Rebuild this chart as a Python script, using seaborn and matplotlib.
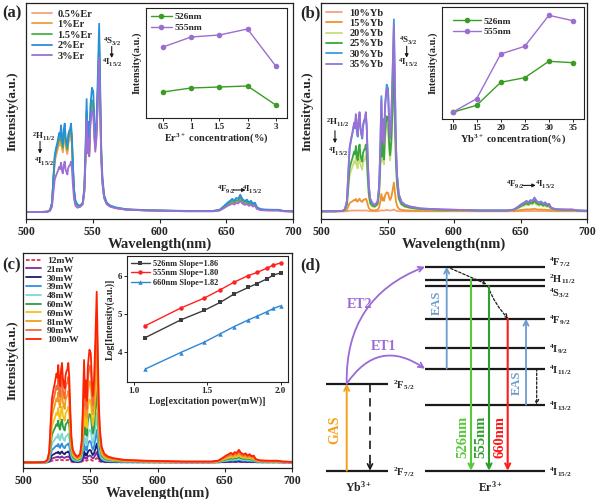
import numpy as np
import pandas as pd
import matplotlib
matplotlib.use('Agg')
import matplotlib.pyplot as plt
import seaborn as sns

wavelength = [500, 510, 516, 518, 519.5, 520.5, 521.5, 522.5, 523.5, 524.9, 525.6,
              526.2, 527.0, 527.6, 528.3, 529.0, 529.6, 530.3, 531.0, 531.6, 532.3,
              533.0, 533.7, 534.4, 535.2, 536.0, 537.0, 538.5, 540.4, 542.5, 543.7,
              544.6, 545.4, 546.1, 546.7, 547.4, 548.2, 549.4, 550.4, 551.2, 551.9,
              552.8, 553.8, 554.8, 555.6, 556.3, 557.2, 558.5, 560.5, 563, 567, 575,
              590, 620, 640, 645, 648, 651, 653, 654.5, 656, 657.5, 659, 660.5, 662,
              664, 665.5, 667, 668.5, 670, 671.5, 673, 676, 680, 685, 689, 693, 700]
base_intensity = [0.0, 0.0, 0.002, 0.01, 0.05, 0.18, 0.30, 0.34, 0.37, 0.42, 0.40,
                  0.46, 0.38, 0.36, 0.44, 0.47, 0.40, 0.37, 0.35, 0.41, 0.43,
                  0.44, 0.47, 0.40, 0.24, 0.12, 0.06, 0.04, 0.033, 0.05, 0.13,
                  0.34, 0.60, 0.38, 0.48, 0.36, 0.56, 0.66, 0.64, 0.48, 0.39,
                  0.48, 0.72, 1.0, 0.66, 0.36, 0.19, 0.09, 0.05, 0.035, 0.025, 0.015,
                  0.01, 0.006, 0.006, 0.012, 0.03, 0.05, 0.06, 0.07, 0.06, 0.075, 0.07,
                  0.092, 0.07, 0.058, 0.066, 0.05, 0.06, 0.045, 0.05, 0.025, 0.015,
                  0.013, 0.012, 0.012, 0.006, 0.004]

# (a) Er series: relative strength of 2H11/2, 4S3/2 and 4F9/2 bands
er_labels = ['0.5%Er', '1%Er', '1.5%Er', '2%Er', '3%Er']
er_colors = ['#f5a27a', '#f39a3a', '#4db04a', '#2a8fd9', '#9b6fd6']
er_band_h = [0.88, 0.92, 0.95, 1.0, 0.57]
er_band_s = [0.85, 0.88, 0.90, 1.0, 0.82]
er_band_f = [0.75, 0.80, 0.85, 1.0, 0.65]

# (b) Yb series
yb_labels = ['10%Yb', '15%Yb', '20%Yb', '25%Yb', '30%Yb', '35%Yb']
yb_colors = ['#f5a27a', '#f0922b', '#c9dc7a', '#36a83a', '#3c9be0', '#9b6fd6']
yb_band_h = [0.01, 0.14, 0.62, 0.74, 1.08, 1.10]
yb_band_s = [0.01, 0.15, 0.68, 0.75, 1.0, 0.97]
yb_band_f = [0.02, 0.15, 0.50, 0.60, 0.78, 0.75]

# (c) pump power series
power_labels = ['12mW', '21mW', '30mW', '39mW', '48mW', '60mW', '69mW', '81mW', '90mW', '100mW']
power_colors = ['#e0305a', '#7b2fa0', '#1c1c70', '#2f8fe0', '#7fd6d6', '#2e9e3e',
                '#f2c21b', '#f59a1e', '#f26b3a', '#ff2200']
power_rel = [0.025, 0.06, 0.11, 0.19, 0.29, 0.43, 0.56, 0.72, 0.86, 1.0]
power_band = [1.24, 1.0, 0.8]

# insets
er_conc = ['0.5', '1', '1.5', '2', '3']
er_526 = [26, 30, 31, 32, 13]
er_555 = [71, 81, 83, 89, 52]
yb_conc = [10, 15, 20, 25, 30, 35]
yb_526 = [6.7, 13.7, 36.7, 41.3, 57.7, 56.3]
yb_555 = [6.7, 20.3, 65, 72.7, 103.7, 98.3]
log_power = [1.08, 1.32, 1.48, 1.59, 1.68, 1.78, 1.84, 1.91, 1.95, 2.00]
log_526 = [4.38, 4.84, 5.09, 5.30, 5.51, 5.69, 5.79, 5.92, 6.01, 6.07]
log_555 = [4.69, 5.15, 5.41, 5.63, 5.82, 6.00, 6.08, 6.20, 6.27, 6.33]
log_660 = [3.56, 3.99, 4.26, 4.48, 4.66, 4.84, 4.94, 5.06, 5.14, 5.21]

# (d) energy levels (10^3 cm^-1)
er_levels = ['$^4$F$_{7/2}$', '$^2$H$_{11/2}$', '$^4$S$_{3/2}$', '$^4$F$_{9/2}$',
             '$^4$I$_{9/2}$', '$^4$I$_{11/2}$', '$^4$I$_{13/2}$', '$^4$I$_{15/2}$']
er_energy = [20.4, 19.1, 18.45, 15.2, 12.3, 10.2, 6.6, 0.0]
yb_levels = ['$^2$F$_{5/2}$', '$^2$F$_{7/2}$']
yb_energy = [8.7, 0.0]

sns.set_theme(style='white')
plt.rcParams['font.family'] = ['Liberation Serif', 'DejaVu Serif']
plt.rcParams['font.weight'] = 'bold'
plt.rcParams['axes.labelweight'] = 'bold'
plt.rcParams['mathtext.fontset'] = 'custom'
plt.rcParams['mathtext.rm'] = 'Liberation Serif:bold'
plt.rcParams['mathtext.bf'] = 'Liberation Serif:bold'
plt.rcParams['mathtext.it'] = 'Liberation Serif:bold:italic'

fig = plt.figure(figsize=(6.0, 4.99), dpi=100)


def px_axes(l, t, r, b):
    return fig.add_axes([l / 600, 1 - b / 499, (r - l) / 600, (b - t) / 499])


def frame(ax, lw=0.9):
    for sp in ax.spines.values():
        sp.set_visible(True)
        sp.set_linewidth(lw)
        sp.set_color('#222222')


def spectrum_frame(labels, f_h, f_s, f_f):
    wl = np.array(wavelength)
    base = np.array(base_intensity)
    parts = []
    for lab, h, s, f in zip(labels, f_h, f_s, f_f):
        scale = np.where(wl < 540, h, np.where(wl < 620, s, f))
        parts.append(pd.DataFrame({'Wavelength': wl, 'Intensity': base * scale, 'Sample': lab}))
    return pd.concat(parts, ignore_index=True)


def draw_spectrum(ax, df, labels, colors, ylim, ylab_pad):
    sns.lineplot(data=df, x='Wavelength', y='Intensity', hue='Sample', hue_order=labels,
                 palette=colors, estimator=None, sort=False, lw=1.3, legend=False, ax=ax)
    ax.set_xlim(500, 700)
    ax.set_ylim(*ylim)
    ax.set_xticks([500, 550, 600, 650, 700])
    ax.set_yticks([])
    ax.set_xlabel('Wavelength(nm)', fontsize=10.5, labelpad=0)
    ax.set_ylabel('Intensity(a.u.)', fontsize=9.5, labelpad=ylab_pad)
    ax.tick_params(axis='x', bottom=True, direction='out', length=3, width=0.8,
                   labelsize=8.5, pad=2)
    frame(ax)


def vert_transition(ax, x_txt, x_arr, y_up, y_a0, y_a1, y_low, upper, size=6.5):
    ax.text(x_txt, y_up, upper, ha='center', va='center', fontsize=size)
    ax.annotate('', xy=(x_arr, y_a1), xytext=(x_arr, y_a0),
                arrowprops=dict(arrowstyle='-|>', color='k', lw=0.8, mutation_scale=5,
                                shrinkA=0, shrinkB=0))
    ax.text(x_txt, y_low, '$^4$I$_{15/2}$', ha='center', va='center', fontsize=size)


def red_transition(ax, x0, x1, x2, x3, y, size=6.5):
    ax.text(x0, y, '$^4$F$_{9/2}$', ha='center', va='center', fontsize=size)
    ax.annotate('', xy=(x2, y), xytext=(x1, y),
                arrowprops=dict(arrowstyle='-|>', color='k', lw=0.8, mutation_scale=5,
                                shrinkA=0, shrinkB=0))
    ax.text(x3, y, '$^4$I$_{15/2}$', ha='center', va='center', fontsize=size)


def inset_style(ax):
    frame(ax, 0.8)
    ax.set_yticks([])
    ax.tick_params(axis='x', bottom=True, direction='out', length=2, width=0.7,
                   labelsize=6.5, pad=1.5)


# ---------- (a) ----------
ax_a = px_axes(26, 3, 293, 219)
draw_spectrum(ax_a, spectrum_frame(er_labels, er_band_h, er_band_s, er_band_f),
              er_labels, er_colors, (-0.037, 1.11), 5)
ax_a.legend(ax_a.lines[:len(er_labels)], er_labels, loc='upper left', frameon=False,
            fontsize=7.5, handlelength=1.9, handletextpad=0.5, labelspacing=0.12,
            borderaxespad=0.3, borderpad=0.3)
vert_transition(ax_a, 513.5, 510.5, 0.40, 0.375, 0.31, 0.268, '$^2$H$_{11/2}$')
vert_transition(ax_a, 564.2, 564.2, 0.906, 0.879, 0.818, 0.79, '$^4$S$_{3/2}$')
red_transition(ax_a, 649.8, 655, 664.5, 669.5, 0.117)

ins_a = px_axes(146, 8, 287, 118)
ins_df = pd.DataFrame({'conc': er_conc * 2, 'I': er_526 + er_555,
                       'band': ['526nm'] * 5 + ['555nm'] * 5})
sns.lineplot(data=ins_df, x='conc', y='I', hue='band', palette=['#3a9d23', '#9b6fd0'],
             marker='o', markersize=4, markeredgewidth=0, lw=1.0, sort=False,
             legend=False, ax=ins_a)
inset_style(ins_a)
ins_a.set_xlim(-0.6, 4.4)
ins_a.set_ylim(0, 110)
ins_a.set_xlabel('Er$^{3+}$ concentration(%)', fontsize=7.5, labelpad=0)
ins_a.set_ylabel('Intensity(a.u.)', fontsize=7.5, labelpad=3)
ins_a.legend(ins_a.lines[:2], ['526nm', '555nm'], loc='upper left', frameon=False,
             fontsize=6.8, handlelength=2.2, handletextpad=0.3, labelspacing=0.2,
             borderaxespad=0.2, borderpad=0.3)

# ---------- (b) ----------
ax_b = px_axes(321, 3, 587, 219)
draw_spectrum(ax_b, spectrum_frame(yb_labels, yb_band_h, yb_band_s, yb_band_f),
              yb_labels, yb_colors, (-0.04, 1.085), 5)
ax_b.legend(ax_b.lines[:len(yb_labels)], yb_labels, loc='upper left', frameon=False,
            fontsize=7.5, handlelength=1.5, handletextpad=0.7, labelspacing=0.1,
            borderaxespad=0.3, borderpad=0.2)
vert_transition(ax_b, 512.5, 510.5, 0.458, 0.42, 0.355, 0.31, '$^2$H$_{11/2}$')
vert_transition(ax_b, 565.4, 564.4, 0.885, 0.86, 0.80, 0.775, '$^4$S$_{3/2}$')
red_transition(ax_b, 646.2, 651.5, 661.5, 668.4, 0.135)

ins_b = px_axes(442, 7, 584, 119)
ins_df = pd.DataFrame({'conc': yb_conc * 2, 'I': yb_526 + yb_555,
                       'band': ['526nm'] * 6 + ['555nm'] * 6})
sns.lineplot(data=ins_df, x='conc', y='I', hue='band', palette=['#3a9d23', '#9b6fd0'],
             marker='o', markersize=4, markeredgewidth=0, lw=1.0, sort=False,
             legend=False, ax=ins_b)
inset_style(ins_b)
ins_b.set_xlim(7.8, 37.3)
ins_b.set_ylim(0, 112)
ins_b.set_xticks(yb_conc)
ins_b.set_xlabel('Yb$^{3+}$ concentration(%)', fontsize=7.5, labelpad=0)
ins_b.set_ylabel('Intensity(a.u.)', fontsize=7.5, labelpad=3)
ins_b.legend(ins_b.lines[:2], ['526nm', '555nm'], loc='upper left', frameon=False,
             fontsize=6.8, handlelength=3.0, handletextpad=0.3, labelspacing=0.2,
             bbox_to_anchor=(0.03, 0.97), borderpad=0.2)

# ---------- (c) ----------
ax_c = px_axes(23, 253, 292, 468)
draw_spectrum(ax_c, spectrum_frame(power_labels,
                                   [power_band[0] * p for p in power_rel],
                                   [power_band[1] * p for p in power_rel],
                                   [power_band[2] * p for p in power_rel]),
              power_labels, power_colors, (-0.033, 1.227), 3)
ax_c.lines[0].set_linestyle((0, (2, 1)))
ax_c.legend(ax_c.lines[:len(power_labels)], power_labels, loc='upper left',
            frameon=False, fontsize=6.8, handlelength=1.6, handletextpad=0.6,
            labelspacing=0.02, borderaxespad=0.15, borderpad=0.2)

ins_c = px_axes(127, 256, 288, 382)
log_df = pd.DataFrame({'P': log_power * 3, 'I': log_526 + log_555 + log_660,
                       'band': ['526nm Slope=1.86'] * 10 + ['555nm Slope=1.80'] * 10
                       + ['660nm Slope=1.82'] * 10})
for band, col, mk in zip(['526nm Slope=1.86', '555nm Slope=1.80', '660nm Slope=1.82'],
                         ['#3d3d3d', '#ff2020', '#2f86d6'], ['s', 'o', '^']):
    sns.lineplot(data=log_df[log_df['band'] == band], x='P', y='I', color=col,
                 marker=mk, markersize=3.2, markeredgewidth=0, lw=1.0, ax=ins_c,
                 label=band)
frame(ins_c, 0.8)
ins_c.set_xlim(0.955, 2.05)
ins_c.set_ylim(3.22, 6.51)
ins_c.set_xticks([1.0, 1.5, 2.0])
ins_c.set_yticks([4, 5, 6])
ins_c.tick_params(bottom=True, left=True, direction='out', length=2, width=0.7,
                  labelsize=6.5, pad=1.5)
ins_c.set_xlabel('Log[excitation power(mW)]', fontsize=7, labelpad=1)
ins_c.set_ylabel('Log[Intensity(a.u.)]', fontsize=7, labelpad=2)
ins_c.legend(loc='upper left', frameon=False, fontsize=6, handlelength=2.2,
             handletextpad=0.4, labelspacing=0.15, borderaxespad=0.2, borderpad=0.3)

# ---------- (d) ----------
ax_d = px_axes(300, 250, 600, 499)
ax_d.set_xlim(0, 300)
ax_d.set_ylim(-2.83, 22.07)
ax_d.axis('off')

ax_d.hlines(er_energy, 125, 245, color='k', lw=1.6)
ax_d.hlines(yb_energy, 26, 88, color='k', lw=1.6)
label_shift = [0.45, 0.1, -0.7, -0.15, -0.15, -0.15, -0.1, -0.1]
for name, e, dy in zip(er_levels, er_energy, label_shift):
    ax_d.text(249, e + dy, name, ha='left', va='center', fontsize=7.5)
for name, e in zip(yb_levels, yb_energy):
    ax_d.text(93, e - 0.1, name, ha='left', va='center', fontsize=7.5)
ax_d.text(58, -1.7, 'Yb$^{3+}$', ha='center', va='center', fontsize=8.5)
ax_d.text(190, -1.7, 'Er$^{3+}$', ha='center', va='center', fontsize=8.5)


def arrow(p0, p1, color, lw=1.4, style='->', ls='-', rad=0.0, ms=9):
    ax_d.annotate('', xy=p1, xytext=p0,
                  arrowprops=dict(arrowstyle=style, color=color, lw=lw, linestyle=ls,
                                  shrinkA=0, shrinkB=0, mutation_scale=ms,
                                  connectionstyle=f'arc3,rad={rad}'))


gas, eas, et = '#f5a01a', '#6b9bd1', '#9a6ad6'
arrow((46.7, 0), (46.7, yb_energy[0]), gas)
ax_d.text(35, 4.1, 'GAS', color=gas, rotation=90, ha='center', va='center', fontsize=10)
ax_d.plot([70, 70], [yb_energy[0], 0.3], color='k', lw=1.2, dashes=(5, 3.5))
arrow((70, 0.9), (70, 0.0), 'k', lw=1.2)
arrow((46.7, yb_energy[0]), (125, er_energy[5]), et, lw=1.3, rad=-0.5)
arrow((46.7, yb_energy[0]), (125, er_energy[0]), et, lw=1.3, rad=-0.35)
ax_d.text(83, 12.4, 'ET1', color=et, ha='center', va='center', fontsize=10)
ax_d.text(60, 16.6, 'ET2', color=et, ha='center', va='center', fontsize=10)

arrow((146.7, er_energy[5]), (146.7, er_energy[0]), eas, lw=1.3)
ax_d.text(136.7, 16.8, 'EAS', color=eas, rotation=90, ha='center', va='center',
          fontsize=9)
arrow((226, er_energy[6]), (226, er_energy[3]), eas, lw=1.3)
ax_d.text(216.7, 8.8, 'EAS', color=eas, rotation=90, ha='center', va='center', fontsize=9)
arrow((236.7, er_energy[5]), (236.7, er_energy[6]), 'k', lw=0.9, ls=(0, (2, 1.5)), ms=7)
arrow((146.7, er_energy[0]), (186.7, 18.65), 'k', lw=0.9, ls=(0, (2, 1.5)), ms=7)
arrow((188, 18.4), (208.3, er_energy[3]), 'k', lw=0.9, ls=(0, (2, 1.5)), ms=7, rad=0.1)

emis_x = [171, 189, 207.7]
emis_top = [er_energy[1], er_energy[2], er_energy[3]]
emis_col = ['#5ac83c', '#2e9e2e', '#ff1a1a']
emis_lab = ['526nm', '555nm', '660nm']
for x, top, col, lab in zip(emis_x, emis_top, emis_col, emis_lab):
    arrow((x, top), (x, 0), col, lw=1.5)
    ax_d.text(x - 8, 3.4, lab, color=col, rotation=90, ha='center', va='center',
              fontsize=10.5)

for txt, x, y in [('(a)', 2, 13), ('(b)', 300, 13), ('(c)', 2, 265), ('(d)', 300, 265)]:
    fig.text(x / 600, 1 - y / 499, txt, fontsize=12, fontweight='bold', va='center')

fig.savefig('out.png', dpi=100)
